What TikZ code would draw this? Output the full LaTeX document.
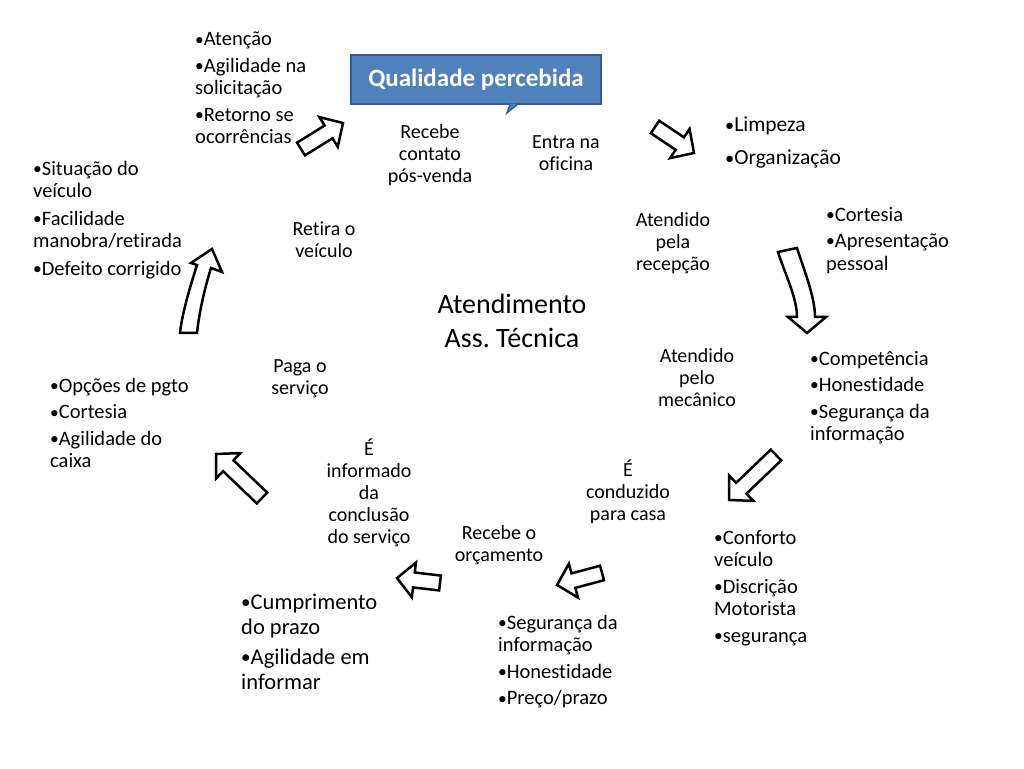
\documentclass[tikz,border=0pt]{standalone}
\usepackage{graphicx}
\usepackage{fontspec}
\setmainfont{Carlito}[Ligatures=NoCommon]
\usetikzlibrary{calc}
\frenchspacing
\definecolor{azulcaixa}{HTML}{4F81BD}
\definecolor{azulborda}{HTML}{385D8A}
\newcommand{\bul}{\raisebox{0.04em}{\scalebox{0.85}{•}}}
% seta de bloco: #1 = cauda, #2 = ponta
\newcommand{\seta}[2]{%
  \coordinate (#1-h) at ($(#2)!17pt!(#1)$);
  \draw[blocoseta] ($(#1)!7.5pt!90:(#2)$) -- ($(#1-h)!7.5pt!90:(#2)$)
    -- ($(#1-h)!17.5pt!90:(#2)$) -- (#2) -- ($(#1-h)!17.5pt!-90:(#2)$)
    -- ($(#1-h)!7.5pt!-90:(#2)$) -- ($(#1)!7.5pt!-90:(#2)$) -- cycle;}

\begin{document}
\begin{tikzpicture}[x=1pt, y=1pt,
  lista/.style={anchor=north west, align=left, inner sep=0pt,
                font=\fontsize{20.5}{22.5}\selectfont},
  listagrande/.style={lista, font=\fontsize{22.5}{25}\selectfont},
  passo/.style={anchor=north, align=center, inner sep=0pt,
                font=\fontsize{20}{22}\selectfont},
  blocoseta/.style={draw=black, fill=white, line width=2.5pt},
  caixa/.style={fill=azulcaixa, draw=azulborda, line width=1.5pt,
                minimum width=250pt, minimum height=49pt, inner sep=0pt,
                text=white, font=\fontsize{25}{30}\selectfont\bfseries}
]
\fill[white] (0,0) rectangle (1024,768);
\useasboundingbox (0,0) rectangle (1024,768);

% caixa de destaque
\node[caixa] (qualidade) at (476,688.5) {Qualidade percebida};
\coordinate (bico) at ($(qualidade.south)+(31,-8)$);
\fill[azulcaixa] ($(qualidade.south)+(34,1)$) -- (bico) -- ($(qualidade.south)+(41,1)$) -- cycle;
\draw[azulborda, line width=1.5pt] ($(qualidade.south)+(34,0)$) -- (bico) -- ($(qualidade.south)+(41,0)$);

% etapas do atendimento
\node[passo] (contato) at (430,644) {Recebe\\contato\\pós-venda};
\node[passo] (oficina) at (566,633) {Entra na\\oficina};
\node[passo] (recepcao) at (673,556) {Atendido\\pela\\recepção};
\node[passo] (mecanico) at (697,420) {Atendido\\pelo\\mecânico};
\node[passo] (casa) at (628,308) {É\\conduzido\\para casa};
\node[passo] (orcamento) at (499,243) {Recebe o\\orçamento};
\node[passo] (informado) at (369,329) {É\\informado\\da\\conclusão\\do serviço};
\node[passo] (paga) at (300,409) {Paga o\\serviço};
\node[passo] (retira) at (324,546) {Retira o\\veículo};
\node[passo, font=\fontsize{28}{34}\selectfont] (atendimento) at (512,474)
  {Atendimento\\Ass. Técnica};

% atributos percebidos
\node[lista] (atencao) at (195,736)
  {\bul Atenção\\[4pt]\bul Agilidade na\\solicitação\\[4pt]\bul Retorno se\\ocorrências};
\node[listagrande, font=\fontsize{21.5}{25}\selectfont] (limpeza) at (725,651)
  {\bul Limpeza\\[8pt]\bul Organização};
\node[lista] (cortesia) at (826,561) {\bul Cortesia\\[4pt]\bul Apresentação\\pessoal};
\node[lista] (competencia) at (810,417)
  {\bul Competência\\[4pt]\bul Honestidade\\[4pt]\bul Segurança da\\informação};
\node[lista] (conforto) at (714,238)
  {\bul Conforto\\veículo\\[4pt]\bul Discrição\\Motorista\\[4pt]\bul segurança};
\node[lista] (preco) at (498,153)
  {\bul Segurança da\\informação\\[4pt]\bul Honestidade\\[4pt]\bul Preço/prazo};
\node[listagrande] (prazo) at (241,174)
  {\bul Cumprimento\\do prazo\\[5pt]\bul Agilidade em\\informar};
\node[lista] (pgto) at (50,390)
  {\bul Opções de pgto\\[4pt]\bul Cortesia\\[4pt]\bul Agilidade do\\caixa};
\node[lista] (situacao) at (33,607)
  {\bul Situação do\\veículo\\[5pt]\bul Facilidade\\manobra/retirada\\[5pt]\bul Defeito corrigido};

% setas retas
\coordinate (s1t) at (301,619); \coordinate (s1p) at (343,645);
\coordinate (s2t) at (655,641); \coordinate (s2p) at (694,615);
\coordinate (s4t) at (776,313); \coordinate (s4p) at (729,268);
\coordinate (s5t) at (602,195); \coordinate (s5p) at (557,183);
\coordinate (s6t) at (440,185); \coordinate (s6p) at (397,190);
\coordinate (s7t) at (262,270); \coordinate (s7p) at (216,314);
\seta{s1t}{s1p}
\seta{s2t}{s2p}
\seta{s4t}{s4p}
\seta{s5t}{s5p}
\seta{s6t}{s6p}
\seta{s7t}{s7p}

% setas curvas
\draw[blocoseta] (778,516) .. controls (784,496) and (797,471) .. (797,451)
  -- (788,451) -- (807,435) -- (826,451) -- (815,451)
  .. controls (815,471) and (804,498) .. (797,520) -- cycle;
\draw[blocoseta] (180,435) -- (197,435) .. controls (199,455) and (205,481) .. (211,500)
  -- (222,496) -- (212,519) -- (191,505) -- (197,503)
  .. controls (191,484) and (182,455) .. (180,435) -- cycle;
\end{tikzpicture}
\end{document}
